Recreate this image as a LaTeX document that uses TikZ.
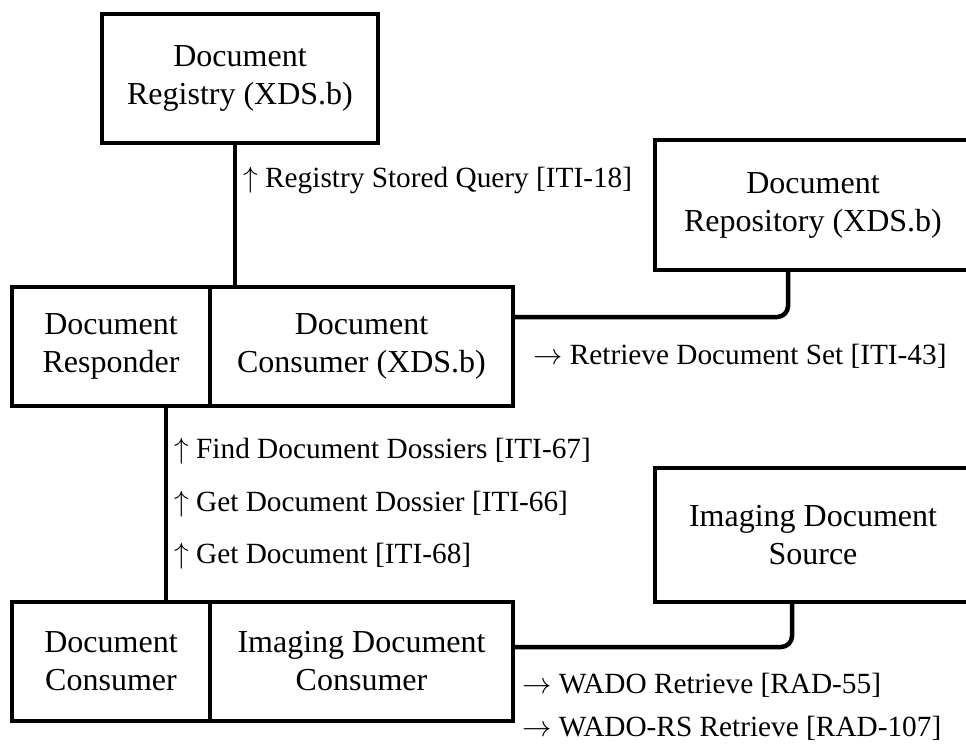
\documentclass[tikz,border=0pt]{standalone}
\usepackage{graphicx}
\usepackage{fontspec}
\setmainfont{Liberation Serif}
\usetikzlibrary{calc}
% direction arrows set from the largest math size, scaled up to the label size
\newcommand\dirarrow[1]{\scalebox{1.1777}{\fontsize{24.88pt}{30pt}\selectfont$#1$}}
\begin{document}
\begin{tikzpicture}[x=1pt,y=1pt,
  actor/.style={draw, line width=4.5pt, inner sep=0pt, outer sep=0pt,
    align=center, font=\fontsize{32pt}{38pt}\selectfont},
  link/.style={line width=4.5pt},
  txn/.style={anchor=base west, inner sep=0pt, font=\fontsize{29.3pt}{35pt}\selectfont}]
\useasboundingbox (0,0) rectangle (966,-744);

% actors
\node[actor, minimum width=276pt, minimum height=129pt] (reg) at (240,-78.5)
  {Document\\Registry (XDS.b)};
\node[actor, minimum width=316pt, minimum height=130pt] (repo) at (813,-205)
  {Document\\Repository (XDS.b)};
\node[actor, minimum width=198pt, minimum height=119pt] (resp) at (111,-346.5)
  {Document\\Responder};
\node[actor, minimum width=303pt, minimum height=119pt] (xdsc) at (361.5,-346.5)
  {Document\\Consumer (XDS.b)};
\node[actor, minimum width=316pt, minimum height=134pt] (src) at (813,-535)
  {Imaging Document\\Source};
\node[actor, minimum width=198pt, minimum height=119pt] (dcons) at (111,-661.5)
  {Document\\Consumer};
\node[actor, minimum width=303pt, minimum height=119pt] (idc) at (361.5,-661.5)
  {Imaging Document\\Consumer};

% connectors
\draw[link] ([xshift=-5pt]reg.south) -- ([xshift=-5pt]reg.south |- xdsc.north);
\draw[link, rounded corners=11pt] ([xshift=-25pt]repo.south) |- ([yshift=29.5pt]xdsc.east);
\draw[link] ([xshift=55pt]resp.south) -- ([xshift=55pt]dcons.north);
\draw[link, rounded corners=11pt] ([xshift=-21pt]src.south) |- ([yshift=14.5pt]idc.east);

% transactions
\node[txn] (t18) at (243,-187) {\dirarrow\uparrow{} Registry Stored Query [ITI-18]};
\node[txn] (t43) at (533,-364) {\dirarrow\rightarrow{} Retrieve Document Set [ITI-43]};
\node[txn] (t67) at (174,-458) {\dirarrow\uparrow{} Find Document Dossiers [ITI-67]};
\node[txn] (t66) at (174,-511) {\dirarrow\uparrow{} Get Document Dossier [ITI-66]};
\node[txn] (t68) at (174,-563) {\dirarrow\uparrow{} Get Document [ITI-68]};
\node[txn] (r55) at (522,-693) {\dirarrow\rightarrow{} WADO Retrieve [RAD-55]};
\node[txn] (r107) at (522,-736) {\dirarrow\rightarrow{} WADO-RS Retrieve [RAD-107]};
\end{tikzpicture}
\end{document}
